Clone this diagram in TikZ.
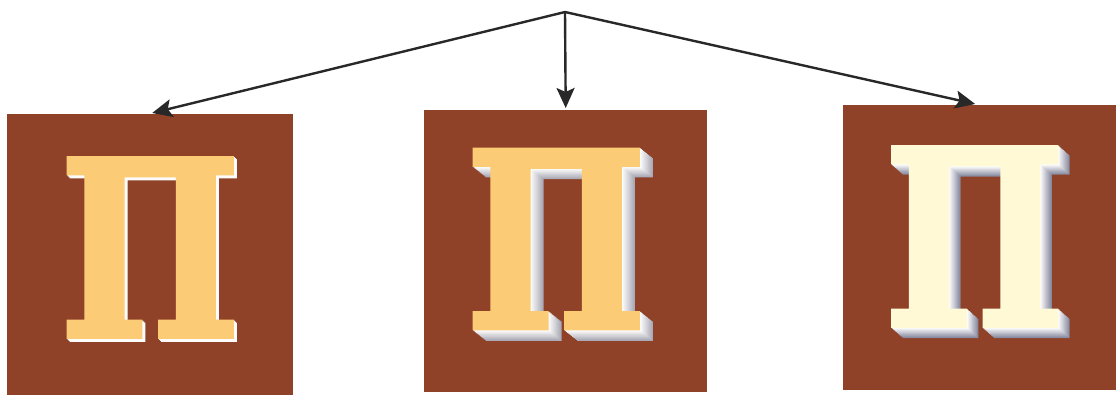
\documentclass[tikz,border=0pt]{standalone}
\usepackage{fontspec}
\newfontfamily\letterfont[FakeBold=2]{DejaVu Serif Condensed}
\usetikzlibrary{arrows.meta,calc}
\definecolor{brownbg}{RGB}{143,66,40}
\definecolor{faceorange}{RGB}{251,203,118}
\definecolor{facecream}{RGB}{255,249,214}
\definecolor{extrnear}{RGB}{252,252,252}
\definecolor{extrfar}{RGB}{170,170,182}
\definecolor{extrfarb}{RGB}{135,138,160}
\definecolor{arrowcol}{RGB}{40,40,40}
\newcommand{\pe}{\scalebox{0.87}[1]{П}}
\begin{document}
\begin{tikzpicture}[x=1pt,y=-1pt,
  square/.style={fill=brownbg,draw=none,inner sep=0pt,anchor=north west},
  glyph/.style={inner sep=0pt,font=\letterfont\bfseries\fontsize{244}{244}\selectfont},
  conn/.style={draw=arrowcol,line width=2.4pt,-{Stealth[length=20pt,width=18pt,inset=4pt]}}]
\useasboundingbox (0,0) rectangle (1116,394);
\fill[white] (0,0) rectangle (1116,394);
\clip (0,0) rectangle (1116,394);
% squares
\node[square,minimum width=286pt,minimum height=286pt] (sq1) at (7,114) {};
\node[square,minimum width=283pt,minimum height=282pt] (sq2) at (424,110) {};
\node[square,minimum width=280pt,minimum height=285pt] (sq3) at (843,105) {};
% letter 1: thin white edge
\foreach \i in {3,2,1}{
  \node[glyph,text=extrnear] (p1s\i) at ($(150,247.5)+(\i,\i)$) {\pe};
}
\node[glyph,text=faceorange] (p1) at (150,247.5) {\pe};
% letter 2: white-grey extrusion
\foreach \i in {13,...,1}{
  \pgfmathtruncatemacro\t{100-(\i-1)*100/12}
  \colorlet{cur}{extrnear!\t!extrfar}
  \node[glyph,text=cur] (p2s\i) at ($(556,239)+(\i,0.8*\i)$) {\pe};
}
\node[glyph,text=faceorange] (p2) at (556,239) {\pe};
% letter 3: bluish-grey extrusion
\foreach \i in {12,...,1}{
  \pgfmathtruncatemacro\t{100-(\i-1)*100/11}
  \colorlet{cur}{extrnear!\t!extrfarb}
  \node[glyph,text=cur] (p3s\i) at ($(974.5,236.5)+(0.95*\i,0.85*\i)$) {\pe};
}
\node[glyph,text=facecream] (p3) at (974.5,236.5) {\pe};
% arrows
\coordinate (apex) at (565,12);
\draw[conn] (apex) -- ($(sq1.north)+(2,-1)$);
\draw[conn] (apex) -- ($(sq2.north)+(0,-2)$);
\draw[conn] (apex) -- ($(sq3.north)+(-8,-1)$);
\end{tikzpicture}
\end{document}
